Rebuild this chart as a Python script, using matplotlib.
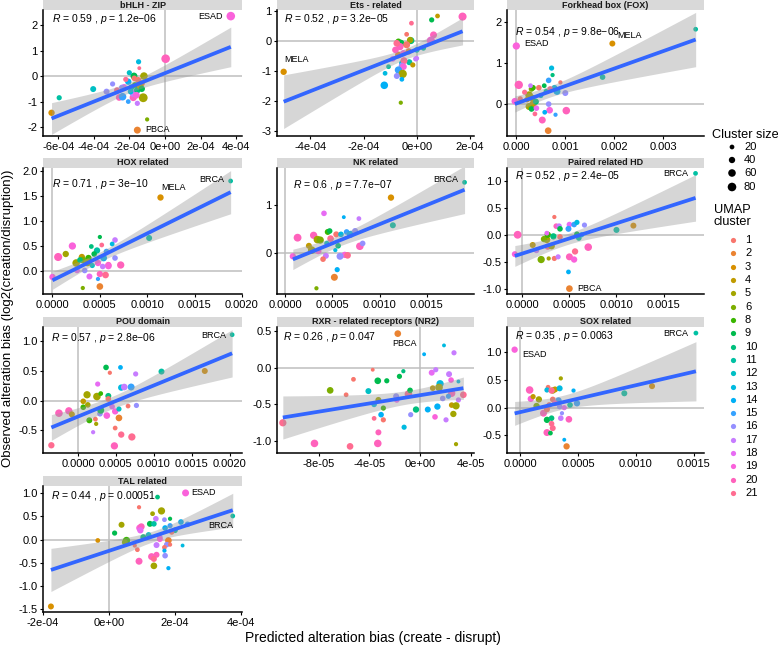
import numpy as np
import matplotlib
matplotlib.use("Agg")
import matplotlib.pyplot as plt
from matplotlib.patches import Rectangle

plt.rcParams['font.family'] = ['Liberation Sans', 'DejaVu Sans']
plt.rcParams['mathtext.fontset'] = 'custom'
plt.rcParams['mathtext.rm'] = 'Liberation Sans'
plt.rcParams['mathtext.it'] = 'Liberation Sans:italic'
plt.rcParams['axes.unicode_minus'] = False

W, H, DPI = 778, 646, 100

# ---------------- legend data ----------------
cluster_ids = [1, 2, 3, 4, 5, 6, 8, 9, 10, 11, 12, 13, 14, 15, 16, 17, 18, 19, 20, 21]
cluster_hex = ["#F8766D", "#EA8331", "#D89000", "#C09B00", "#A3A500", "#7CAE00", "#39B600",
               "#00BB4E", "#00BF7D", "#00C1A3", "#00BFC4", "#00BAE0", "#00B0F6", "#35A2FF",
               "#9590FF", "#C77CFF", "#E76BF3", "#FA62DB", "#FF62BC", "#FF6C91"]
size_breaks = [20, 40, 60, 80]

# ---------------- panel data ----------------
# bHLH - ZIP (x in 1e-4)
bhlh_x = np.array([3.7, 0.04, -6.37, -5.94, -4.03, -1.55, -1.0, -1.22, -1.18, -1.48, -1.44, -1.74, -2.0,
                   -3.28, -2.94, -2.57, -2.38, -1.78, -1.78, -2.06, -1.55, -1.55, -1.5, -1.31, -2.06, -2.3,
                   -2.2, -1.87, -1.69, -1.93, -2.43, -1.72, -1.4, -1.6, -2.7, -1.3]) * 1e-4
bhlh_y = [2.35, 0.68, -1.44, -0.85, -0.51, -2.12, -1.7, -0.85, 0.0, 0.56, 0.31, 0.0, 0.13,
          -0.61, -0.31, -0.84, -0.81, -0.84, -0.68, -1.0, -1.07, -0.55, -0.16, -0.29, -0.22, -0.42,
          -0.13, -0.44, -0.35, -0.61, -0.44, -0.09, -0.4, -0.75, -0.55, -0.5]
bhlh_cluster = [19, 20, 3, 11, 12, 2, 6, 5, 5, 13, 21, 9, 12, 16, 16, 20, 15, 20, 17, 15, 17, 10, 1, 2, 14,
                18, 21, 11, 8, 13, 16, 1, 4, 19, 21, 9]
bhlh_size = [80, 80, 40, 25, 35, 50, 15, 85, 60, 25, 12, 50, 25, 35, 25, 45, 60, 55, 50, 20, 25, 45, 40, 40,
             40, 30, 25, 35, 30, 30, 25, 30, 40, 45, 30, 40]

# Ets - related (x in 1e-4)
ets_x = np.array([-5.0, 1.72, 0.78, 0.56, 0.63, 0.53, -0.2, -0.38, -0.69, -0.6, -0.22, -0.25, -0.63, -0.38,
                  -0.75, -0.69, -0.5, -0.04, -0.28, -0.56, -0.48, -0.56, -0.5, -0.69, -1.06, -0.53, -0.75,
                  -0.56, -1.19, -1.22, -0.6, 0.0, -0.15, 0.25, 0.0, -0.9, -0.3, -0.8]) * 1e-4
ets_y = [-1.03, 0.81, 0.83, 0.70, 0.2, 0.01, 0.59, 0.22, -0.02, -0.08, 0.01, 0.03, -0.19, -0.13, -0.08,
         -0.47, -0.41, -0.6, -0.71, -0.74, -0.66, -0.83, -0.86, -0.97, -0.86, -1.1, -1.17, -1.28, -1.08,
         -1.48, -2.06, -0.3, -0.8, -0.24, -0.58, -0.6, -0.35, -0.3]
ets_cluster = [3, 20, 4, 9, 20, 19, 21, 1, 8, 9, 10, 5, 20, 1, 21, 2, 19, 17, 11, 13, 21, 16, 19, 15, 11, 5,
               16, 14, 13, 14, 6, 12, 4, 11, 17, 18, 2, 20]
ets_size = [40, 70, 20, 25, 50, 70, 20, 20, 35, 55, 50, 40, 55, 50, 45, 45, 40, 25, 35, 30, 50, 40, 45, 55,
            20, 75, 35, 20, 20, 60, 15, 30, 25, 25, 20, 30, 40, 45]

# Forkhead box (FOX) (x in 1e-3)
fox_x = np.array([0.0, 1.96, 3.66, 1.76, 0.05, -0.03, 0.72, 0.74, 0.66, 0.9, 0.46, 0.78, 0.83, 1.0, 0.61,
                  0.57, 0.69, 0.26, 0.31, 0.34, 0.29, 0.32, 0.34, 0.26, 0.31, 0.41, 0.66, 0.68, 1.02, 0.58,
                  0.8, 0.38, 0.53, 0.65, 0.17, 0.08, 0.22, 0.4, 0.5]) * 1e-3
fox_y = [1.41, 1.47, 1.82, 0.65, 0.46, 0.06, 0.87, 0.70, 0.57, 0.52, 0.39, 0.39, 0.30, 0.26, 0.30, 0.44,
         0.36, 0.21, 0.36, 0.39, 0.44, 0.14, -0.01, -0.07, -0.13, -0.11, -0.01, -0.16, -0.17, -0.21, -0.27,
         -0.25, -0.4, -0.66, 0.28, 0.12, 0.1, 0.05, 0.2]
fox_cluster = [19, 3, 11, 11, 20, 19, 13, 10, 15, 1, 1, 13, 14, 16, 11, 9, 21, 5, 6, 8, 17, 5, 4, 5, 9, 18,
               16, 19, 20, 14, 15, 21, 20, 2, 21, 1, 3, 10, 12]
fox_size = [55, 35, 20, 30, 75, 45, 25, 15, 30, 15, 30, 30, 50, 35, 25, 20, 30, 60, 30, 30, 20, 45, 55, 50,
            30, 30, 30, 45, 60, 20, 15, 20, 50, 45, 25, 25, 30, 35, 25]

# HOX related (x in 1e-3)
hox_x = np.array([1.88, 1.14, 1.02, 0.0, 0.06, 0.21, 0.14, 0.25, 0.31, 0.32, 0.38, 0.37, 0.29, 0.41, 0.5,
                  0.52, 0.47, 0.57, 0.66, 0.63, 0.54, 0.59, 0.66, 0.72, 0.59, 0.53, 0.48, 0.39, 0.34, 0.5,
                  0.56, 0.5, 0.32, 0.48, 0.26, 0.44, 0.42]) * 1e-3
hox_y = [1.81, 1.48, 0.67, -0.11, 0.29, 0.51, 0.35, 0.17, 0.29, 0.23, 0.27, 0.18, 0.23, 0.5, 0.69, 0.53,
         0.42, 0.4, 0.63, 0.55, 0.27, 0.13, 0.27, 0.13, 0.11, 0.1, 0.17, -0.1, 0.02, -0.05, -0.07, -0.3,
         -0.33, -0.15, 0.02, 0.35, 0.12]
hox_cluster = [11, 3, 11, 19, 20, 19, 5, 5, 4, 6, 8, 5, 10, 10, 9, 21, 11, 15, 17, 13, 14, 20, 16, 20, 19,
               17, 19, 18, 16, 20, 21, 2, 6, 15, 18, 9, 12]
hox_size = [20, 40, 35, 40, 70, 55, 40, 60, 40, 45, 40, 60, 30, 20, 15, 20, 40, 30, 30, 20, 45, 40, 30, 55,
            45, 30, 40, 35, 30, 40, 45, 45, 15, 15, 30, 30, 25]

# NK related (x in 1e-3)
nk_x = np.array([1.9, 1.12, 1.14, 0.08, 0.13, 0.41, 0.78, 0.62, 0.3, 0.34, 0.37, 0.28, 0.45, 0.47, 0.54,
                 0.48, 0.65, 0.59, 0.69, 0.74, 0.79, 0.82, 0.63, 0.66, 0.58, 0.43, 0.4, 0.53, 0.55, 0.52,
                 0.33, 0.35, 0.56, 0.25, 0.44]) * 1e-3
nk_y = [1.48, 1.16, 0.58, -0.07, 0.32, 0.83, 0.72, 0.75, 0.37, 0.28, 0.27, 0.06, 0.44, 0.46, 0.39, 0.3,
        0.44, 0.39, 0.39, 0.46, 0.14, 0.2, -0.04, -0.05, -0.07, -0.06, -0.13, 0.06, -0.35, -0.51, -0.74,
        0.04, 0.15, 0.15, 0.2]
nk_cluster = [11, 3, 11, 19, 20, 18, 17, 14, 20, 5, 6, 5, 8, 9, 1, 21, 15, 13, 14, 16, 20, 16, 19, 21, 16,
              17, 1, 13, 14, 2, 6, 19, 10, 4, 12]
nk_size = [20, 40, 35, 40, 65, 30, 20, 12, 55, 60, 55, 60, 35, 30, 35, 45, 30, 30, 50, 35, 60, 30, 40, 45,
           50, 35, 30, 15, 25, 50, 15, 40, 30, 35, 25]

# Paired related HD (x in 1e-3)
prd_x = np.array([1.84, 1.18, 1.0, -0.05, -0.08, 0.5, 0.49, 0.34, 0.36, 0.39, 0.4, 0.5, 0.55, 0.58, 0.66,
                  0.49, 0.26, 0.23, 0.27, 0.33, 0.11, 0.27, 0.31, 0.2, 0.28, 0.34, 0.38, 0.5, 0.55, 0.56,
                  0.7, 0.4, 0.15, 0.6, 0.58, 0.26, 0.63]) * 1e-3
prd_y = [1.14, 0.17, 0.09, 0.0, -0.36, -1.0, -0.69, 0.33, 0.16, 0.16, 0.11, 0.19, 0.19, 0.23, 0.18, 0.11,
         -0.09, -0.08, 0.0, -0.03, -0.19, -0.22, -0.21, -0.46, -0.44, -0.44, -0.41, -0.41, -0.46, -0.31,
         -0.23, -0.04, -0.29, -0.06, 0.01, 0.03, 0.0]
prd_cluster = [11, 3, 11, 20, 19, 2, 14, 1, 20, 17, 9, 18, 15, 13, 16, 15, 5, 6, 8, 10, 4, 21, 5, 6, 5, 1,
               17, 20, 19, 21, 20, 1, 17, 11, 9, 18, 14]
prd_size = [20, 35, 35, 65, 35, 45, 20, 15, 30, 30, 30, 30, 30, 25, 25, 35, 50, 40, 40, 40, 35, 40, 45, 55,
            15, 25, 25, 50, 40, 40, 60, 30, 30, 30, 30, 20, 25]

# POU domain (x in 1e-3)
pou_x = np.array([2.03, 1.67, 1.1, -0.35, -0.25, -0.12, -0.08, 0.12, 0.25, 0.07, 0.07, 0.13, 0.3, 0.37,
                  0.42, 0.56, 0.76, 0.57, 0.7, 0.61, 0.26, 0.4, 0.38, 0.29, 0.3, 0.15, 0.23, 0.24, 0.2,
                  0.49, 0.54, 0.49, 0.57, 0.71, 0.48, 0.77, 0.66, 0.4, 0.54, 0.45]) * 1e-3
pou_y = [1.11, 0.5, 0.49, -0.75, -0.21, -0.17, -0.23, 0.1, 0.07, -0.01, -0.11, -0.07, 0.12, 0.56, 0.47,
         0.56, 0.45, 0.22, 0.23, 0.23, 0.28, 0.08, -0.25, -0.22, -0.16, -0.33, -0.31, -0.39, -0.53, -0.18,
         -0.29, -0.46, -0.57, -0.61, -0.76, -0.08, -0.09, 0.03, -0.14, -0.1]
pou_cluster = [11, 3, 11, 21, 20, 20, 4, 5, 5, 4, 8, 5, 8, 9, 1, 14, 17, 13, 15, 17, 18, 10, 19, 16, 9, 8,
               1, 5, 17, 19, 2, 1, 21, 21, 20, 16, 1, 1, 12, 18]
pou_size = [20, 35, 35, 40, 60, 55, 35, 55, 60, 30, 30, 30, 20, 30, 15, 20, 25, 40, 50, 45, 25, 35, 45, 30,
            50, 35, 20, 15, 15, 40, 45, 20, 40, 55, 55, 25, 20, 30, 25, 30]

# RXR - related receptors (NR2) (x in 1e-5)
rxr_x = np.array([-1.76, -10.84, -8.34, -5.53, -3.34, -5.84, -5.26, -3.74, -7.1, -3.34, -2.63, -1.63, -1.32,
                  -4.08, -3.29, -3.63, -2.9, -3.08, -3.63, -2.9, -3.29, -1.26, -1.89, -1.84, -0.92, -0.79,
                  -0.32, -0.74, 0.61, 1.37, 1.18, 2.05, 0.32, 1.89, 2.68, 0.92, 1.24, 2.29, 2.45, 1.58, 1.5,
                  1.0, 1.79, 2.5, 3.42, 2.24, 3.03, 3.03, 2.5, 2.84, 2.63, 2.84]) * 1e-5
rxr_y = [0.46, -0.75, -1.03, -1.07, -1.03, -0.37, -0.16, -0.03, -0.31, -0.18, -0.18, -0.12, -0.05, -0.32,
         -0.44, -0.5, -0.55, -0.64, -0.69, -0.71, -0.88, -0.81, -0.39, -0.44, -0.36, -0.31, -0.57, -0.64,
         -0.57, -0.53, -0.67, -0.71, 0.18, 0.30, 0.2, -0.07, -0.03, -0.09, -0.17, -0.22, -0.27, -0.28, -0.42,
         -0.35, -0.37, -0.39, -0.19, -0.44, -0.51, -0.52, -0.63, -1.04]
rxr_cluster = [2, 21, 20, 21, 20, 1, 1, 1, 6, 9, 9, 9, 10, 12, 5, 13, 8, 14, 21, 1, 20, 13, 16, 18, 21, 9,
               10, 16, 14, 14, 19, 17, 14, 13, 17, 18, 17, 17, 19, 13, 5, 4, 16, 20, 21, 15, 13, 17, 4, 5, 5, 5]
rxr_size = [45, 55, 60, 45, 60, 20, 20, 12, 45, 45, 25, 25, 15, 35, 35, 30, 25, 30, 20, 25, 35, 25, 35, 30,
            60, 30, 40, 25, 35, 40, 30, 25, 12, 12, 25, 35, 25, 35, 30, 55, 60, 30, 30, 55, 45, 25, 12, 25,
            30, 55, 40, 15]

# SOX related (x in 1e-3)
sox_x = np.array([-0.05, 1.52, 1.14, 0.9, 0.08, 0.09, 0.11, 0.16, 0.14, 0.35, 0.24, 0.23, 0.28, 0.3, 0.34,
                  0.27, 0.46, 0.33, 0.28, 0.3, 0.34, 0.25, 0.2, 0.23, 0.23, 0.27, 0.27, 0.28, 0.23, 0.26,
                  0.35, 0.36, 0.42, 0.4, 0.38, 0.49, 0.43, 0.38]) * 1e-3
sox_y = [1.05, 1.35, 0.39, 0.26, 0.32, 0.16, 0.2, 0.15, 0.03, 0.53, 0.37, 0.32, 0.31, 0.33, 0.35, 0.31,
         0.31, 0.13, 0.15, 0.08, 0.02, 0.05, -0.1, -0.03, -0.22, -0.19, -0.29, -0.37, -0.45, -0.46, -0.19,
         -0.1, -0.21, -0.7, -0.58, 0.08, 0.05, 0.0]
sox_cluster = [19, 11, 3, 11, 20, 19, 4, 5, 6, 5, 1, 13, 5, 4, 13, 21, 14, 15, 1, 20, 16, 1, 20, 1, 9, 10,
               21, 21, 20, 9, 17, 16, 20, 2, 14, 15, 11, 18]
sox_size = [40, 20, 35, 35, 60, 40, 25, 40, 40, 15, 20, 25, 40, 35, 35, 40, 15, 40, 30, 35, 30, 30, 50, 35,
            40, 30, 30, 35, 50, 20, 30, 15, 45, 40, 12, 40, 30, 25]

# TAL related (x in 1e-4)
tal_x = np.array([-1.76, -0.34, 2.32, 3.75, 0.17, 0.38, 0.53, 0.48, 0.91, 1.47, 1.32, 1.59, 1.42, 1.24,
                  1.36, 0.93, 0.98, 0.95, 1.7, 1.85, 1.68, 1.85, 2.0, 2.18, 2.38, 2.23, 1.9, 1.54, 1.54,
                  1.8, 1.44, 1.75, 1.85, 1.68, 1.68, 1.7, 1.44, 1.29, 1.36, 0.91, 0.86, 0.78, 1.36, 1.8,
                  1.04, 1.2]) * 1e-4
tal_y = [-1.45, -0.02, 1.01, 0.51, 0.14, 0.32, -0.02, -0.06, 0.7, 0.92, 0.56, 0.62, 0.45, 0.34, 0.34, 0.25,
         0.28, 0.2, 0.25, 0.3, 0.43, 0.45, 0.2, 0.38, 0.33, -0.13, 0.16, 0.05, 0.01, -0.02, -0.12, -0.11,
         -0.11, -0.17, -0.24, -0.35, -0.33, -0.37, -0.42, -0.47, -0.22, -0.13, -0.57, -0.62, 0.05, 0.1]
tal_cluster = [3, 3, 19, 11, 9, 5, 8, 6, 1, 10, 5, 5, 17, 9, 11, 19, 20, 18, 14, 15, 16, 9, 11, 14, 15, 13,
               1, 17, 19, 2, 17, 16, 1, 1, 14, 16, 20, 20, 21, 20, 1, 1, 5, 14, 10, 12]
tal_size = [35, 20, 50, 20, 25, 35, 55, 35, 15, 20, 20, 55, 30, 35, 30, 50, 45, 40, 30, 25, 20, 15, 30, 30,
            30, 12, 25, 30, 35, 45, 35, 30, 15, 20, 15, 30, 35, 50, 35, 50, 20, 15, 45, 15, 35, 30]

panel_titles = ["bHLH - ZIP", "Ets - related", "Forkhead box (FOX)", "HOX related", "NK related",
                "Paired related HD", "POU domain", "RXR - related receptors (NR2)", "SOX related",
                "TAL related"]
r_labels = ["0.59 , $\\it{p}$ = 1.2e\u221206", "0.52 , $\\it{p}$ = 3.2e\u221205",
            "0.54 , $\\it{p}$ = 9.8e\u221206", "0.71 , $\\it{p}$ = 3e\u221210",
            "0.6 , $\\it{p}$ = 7.7e\u221207", "0.52 , $\\it{p}$ = 2.4e\u221205",
            "0.57 , $\\it{p}$ = 2.8e\u221206", "0.26 , $\\it{p}$ = 0.047",
            "0.35 , $\\it{p}$ = 0.0063", "0.44 , $\\it{p}$ = 0.00051"]

panel_data = [
    (bhlh_x, bhlh_y, bhlh_cluster, bhlh_size),
    (ets_x, ets_y, ets_cluster, ets_size),
    (fox_x, fox_y, fox_cluster, fox_size),
    (hox_x, hox_y, hox_cluster, hox_size),
    (nk_x, nk_y, nk_cluster, nk_size),
    (prd_x, prd_y, prd_cluster, prd_size),
    (pou_x, pou_y, pou_cluster, pou_size),
    (rxr_x, rxr_y, rxr_cluster, rxr_size),
    (sox_x, sox_y, sox_cluster, sox_size),
    (tal_x, tal_y, tal_cluster, tal_size),
]

# tick positions / labels
x_ticks = [
    ([-6e-4, -4e-4, -2e-4, 0, 2e-4, 4e-4], ["-6e-04", "-4e-04", "-2e-04", "0e+00", "2e-04", "4e-04"]),
    ([-4e-4, -2e-4, 0, 2e-4], ["-4e-04", "-2e-04", "0e+00", "2e-04"]),
    ([0, 0.001, 0.002, 0.003], ["0.000", "0.001", "0.002", "0.003"]),
    ([0, 0.0005, 0.001, 0.0015, 0.002], ["0.0000", "0.0005", "0.0010", "0.0015", "0.0020"]),
    ([0, 0.0005, 0.001, 0.0015], ["0.0000", "0.0005", "0.0010", "0.0015"]),
    ([0, 0.0005, 0.001, 0.0015], ["0.0000", "0.0005", "0.0010", "0.0015"]),
    ([0, 0.0005, 0.001, 0.0015, 0.002], ["0.0000", "0.0005", "0.0010", "0.0015", "0.0020"]),
    ([-8e-5, -4e-5, 0, 4e-5], ["-8e-05", "-4e-05", "0e+00", "4e-05"]),
    ([0, 0.0005, 0.001, 0.0015], ["0.0000", "0.0005", "0.0010", "0.0015"]),
    ([-2e-4, 0, 2e-4, 4e-4], ["-2e-04", "0e+00", "2e-04", "4e-04"]),
]
y_ticks = [
    ([-2, -1, 0, 1, 2], ["-2", "-1", "0", "1", "2"]),
    ([-3, -2, -1, 0, 1], ["-3", "-2", "-1", "0", "1"]),
    ([0, 1, 2], ["0", "1", "2"]),
    ([0, 0.5, 1, 1.5, 2], ["0.0", "0.5", "1.0", "1.5", "2.0"]),
    ([0, 1], ["0", "1"]),
    ([-1, -0.5, 0, 0.5, 1], ["-1.0", "-0.5", "0.0", "0.5", "1.0"]),
    ([-0.5, 0, 0.5, 1], ["-0.5", "0.0", "0.5", "1.0"]),
    ([-1, -0.5, 0, 0.5], ["-1.0", "-0.5", "0.0", "0.5"]),
    ([-0.5, 0, 0.5, 1], ["-0.5", "0.0", "0.5", "1.0"]),
    ([-1.5, -1, -0.5, 0, 0.5, 1], ["-1.5", "-1.0", "-0.5", "0.0", "0.5", "1.0"]),
]

# cancer-type labels: (text, point index, dx px, dy px, ha)
cancer_labels = [
    [("ESAD", 0, -8, 0, "right"), ("PBCA", 5, 8, 1, "left")],
    [("MELA", 0, 1, 12, "left")],
    [("ESAD", 0, 8, 2, "left"), ("MELA", 1, 5, 8, "left")],
    [("BRCA", 0, -6, 1, "right"), ("MELA", 1, 1, 10, "left")],
    [("BRCA", 0, -6, 3, "right")],
    [("BRCA", 0, -7, 0, "right"), ("PBCA", 5, 8, 0, "left")],
    [("BRCA", 0, -6, -1, "right")],
    [("PBCA", 0, 7, -10, "center")],
    [("ESAD", 0, 8, -5, "left"), ("BRCA", 1, -8, 0, "right")],
    [("ESAD", 2, 6, 0, "left"), ("BRCA", 3, -12, -9, "center")],
]

# ---------------- layout (pixels) ----------------
xlims = [(-6.85e-4, 4.33e-4), (-5.25e-4, 2.15e-4), (-0.00019, 0.00383), (-0.0001, 0.00199),
         (-0.000088, 0.002), (-0.000163, 0.00193), (-0.00046, 0.00216), (-11.3e-5, 4.26e-5),
         (-0.000116, 0.00159), (-2.0e-4, 4.03e-4)]
ylims = [(-2.35, 2.59), (-3.17, 1.03), (-0.79, 2.29), (-0.45, 2.07), (-0.86, 1.78), (-1.1, 1.24),
         (-0.88, 1.24), (-1.16, 0.55), (-0.82, 1.46), (-1.57, 1.16)]
col_left = [43, 277, 507]
col_w = [199, 197, 197]
row_top = [10, 168, 327, 486]
panel_h = 126
strip_h = 10

color_of = dict(zip(cluster_ids, cluster_hex))


def area(sz):
    d_px = 0.9 + 0.86 * np.sqrt(np.asarray(sz, dtype=float))
    return (d_px * 72.0 / DPI) ** 2


def t975(df):
    z = 1.959964
    return z + (z ** 3 + z) / (4 * df) + (5 * z ** 5 + 16 * z ** 3 + 3 * z) / (96 * df ** 2)


fig = plt.figure(figsize=(W / DPI, H / DPI), dpi=DPI)

for i in range(10):
    r, c = divmod(i, 3)
    L, T, w = col_left[c], row_top[r], col_w[c]
    ax = fig.add_axes([L / W, 1 - (T + panel_h) / H, w / W, panel_h / H])
    x, y, cl, sz = panel_data[i]
    x = np.asarray(x, float)
    y = np.asarray(y, float)

    ax.axhline(0, color="#BEBEBE", lw=1.1, zorder=1)
    ax.axvline(0, color="#BEBEBE", lw=1.1, zorder=1)

    ax.scatter(x, y, s=area(sz), c=[color_of[k] for k in cl], linewidths=0, zorder=2)

    # linear fit with 95% confidence band
    n = len(x)
    b, a = np.polyfit(x, y, 1)
    resid = y - (a + b * x)
    s_err = np.sqrt(np.sum(resid ** 2) / (n - 2))
    xm = x.mean()
    sxx = np.sum((x - xm) ** 2)
    xs = np.linspace(x.min(), x.max(), 100)
    ys = a + b * xs
    se = s_err * np.sqrt(1.0 / n + (xs - xm) ** 2 / sxx)
    tq = t975(n - 2)
    ax.fill_between(xs, ys - tq * se, ys + tq * se, color="#999999", alpha=0.4, linewidth=0, zorder=3)
    ax.plot(xs, ys, color="#3366FF", lw=2.7, zorder=4, solid_capstyle="butt")

    ax.set_xlim(*xlims[i])
    ax.set_ylim(*ylims[i])
    ax.set_xticks(x_ticks[i][0])
    ax.set_xticklabels(x_ticks[i][1])
    ax.set_yticks(y_ticks[i][0])
    ax.set_yticklabels(y_ticks[i][1])
    ax.tick_params(labelsize=8, length=2.5, width=0.8, pad=1.5, colors="black")
    for sp in ["top", "right"]:
        ax.spines[sp].set_visible(False)
    for sp in ["left", "bottom"]:
        ax.spines[sp].set_linewidth(1.1)
        ax.spines[sp].set_color("black")
    ax.patch.set_alpha(0)

    # strip
    ax.add_patch(Rectangle((0, 1), 1, strip_h / panel_h, transform=ax.transAxes, clip_on=False,
                           facecolor="#D9D9D9", edgecolor="none", zorder=0))
    ax.text(0.5, 1 + strip_h / panel_h / 2, panel_titles[i], transform=ax.transAxes, ha="center",
            va="center", fontsize=6.5, fontweight="bold", color="#1A1A1A")

    # correlation label
    ax.annotate("$\\it{R}$ = " + r_labels[i], xy=(x.min(), y.max()), xytext=(0, -2.2),
                textcoords="offset points", ha="left", va="center", fontsize=7.5, zorder=6)

    # cancer labels
    for txt, idx, dx, dy, ha in cancer_labels[i]:
        ax.annotate(txt, xy=(x[idx], y[idx]), xytext=(dx * 0.72, dy * 0.72), textcoords="offset points",
                    ha=ha, va="center", fontsize=6.5, zorder=6)

# axis titles
fig.text(373 / W, 1 - 638 / H, "Predicted alteration bias (create - disrupt)", ha="center", va="center",
         fontsize=10)
fig.text(8 / W, 1 - 318 / H, "Observed alteration bias (log2(creation/disruption))", ha="center",
         va="center", rotation=90, fontsize=9.5)

# legends drawn on overlay in pixel coordinates
lax = fig.add_axes([0, 0, 1, 1])
lax.set_xlim(0, W)
lax.set_ylim(H, 0)
lax.axis("off")
lax.text(712, 135, "Cluster size", fontsize=9.2, ha="left", va="center")
size_y = [147, 160, 173, 187]
lax.scatter([732] * 4, size_y, s=area(size_breaks), c="black", linewidths=0)
for yy, sb in zip(size_y, size_breaks):
    lax.text(744, yy, str(sb), fontsize=8, ha="left", va="center")
lax.text(714, 216, "UMAP\ncluster", fontsize=9.2, ha="left", va="center", linespacing=0.95)
for j, (cid, col) in enumerate(zip(cluster_ids, cluster_hex)):
    yy = 240 + j * 13.32
    lax.scatter([733], [yy], s=area(25), c=col, linewidths=0)
    lax.text(745, yy, str(cid), fontsize=8, ha="left", va="center")

fig.savefig("out.png", dpi=DPI)
